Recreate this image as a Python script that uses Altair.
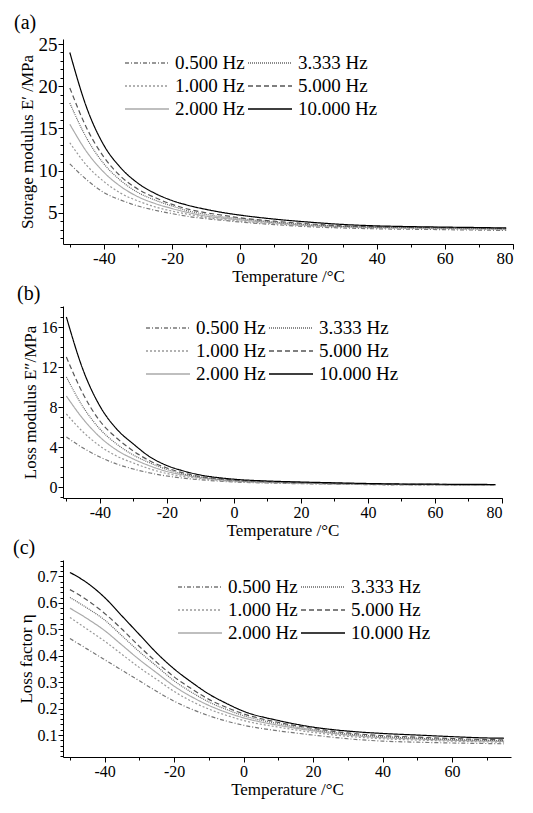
import altair as alt
import pandas as pd

FONT = "Liberation Serif"

freqs = ["0.500 Hz", "1.000 Hz", "2.000 Hz", "3.333 Hz", "5.000 Hz", "10.000 Hz"]
colors = ["#777777", "#999999", "#aaaaaa", "#666666", "#555555", "#000000"]
dashes = [[4, 2, 1, 2], [2, 2], [1, 0], [1, 1], [5, 3], [1, 0]]

temp_ab = [-50, -45, -40, -35, -30, -25, -20, -15, -10, -5, 0, 10, 20, 30, 40, 50, 60, 70, 78]
temp_c = [-50, -45, -40, -35, -30, -25, -20, -15, -10, -5, 0, 10, 20, 30, 40, 50, 60, 70, 75]

# (a) storage modulus E' / MPa
a_0500 = [10.8, 8.9, 7.4, 6.5, 5.8, 5.3, 4.9, 4.55, 4.3, 4.1, 3.9, 3.6, 3.35, 3.2, 3.1, 3.05, 3.0, 2.95, 2.9]
a_1000 = [13.3, 10.6, 8.7, 7.3, 6.4, 5.7, 5.2, 4.8, 4.45, 4.2, 4.0, 3.7, 3.45, 3.3, 3.2, 3.15, 3.1, 3.05, 3.0]
a_2000 = [15.5, 12.2, 9.8, 8.1, 6.9, 6.1, 5.5, 5.0, 4.6, 4.35, 4.15, 3.8, 3.5, 3.35, 3.25, 3.2, 3.15, 3.1, 3.05]
a_3333 = [18.0, 13.8, 10.8, 8.8, 7.4, 6.5, 5.8, 5.2, 4.8, 4.5, 4.3, 3.9, 3.6, 3.4, 3.3, 3.25, 3.2, 3.15, 3.1]
a_5000 = [19.8, 15.0, 11.6, 9.3, 7.8, 6.8, 6.0, 5.4, 5.0, 4.7, 4.4, 4.0, 3.7, 3.45, 3.35, 3.3, 3.25, 3.2, 3.15]
a_10000 = [24.0, 17.4, 13.0, 10.3, 8.5, 7.3, 6.45, 5.85, 5.4, 5.02, 4.72, 4.25, 3.9, 3.62, 3.45, 3.36, 3.3, 3.25, 3.2]

# (b) loss modulus E'' / MPa
b_0500 = [5.0, 3.9, 3.0, 2.3, 1.8, 1.4, 1.1, 0.88, 0.72, 0.6, 0.5, 0.4, 0.33, 0.28, 0.24, 0.21, 0.2, 0.18, 0.17]
b_1000 = [7.3, 5.5, 4.1, 3.1, 2.4, 1.8, 1.35, 1.05, 0.85, 0.68, 0.56, 0.44, 0.37, 0.3, 0.26, 0.23, 0.21, 0.2, 0.19]
b_2000 = [9.1, 6.8, 5.0, 3.7, 2.8, 2.1, 1.55, 1.2, 0.92, 0.75, 0.6, 0.47, 0.4, 0.33, 0.28, 0.25, 0.23, 0.21, 0.2]
b_3333 = [11.0, 8.0, 5.8, 4.3, 3.2, 2.4, 1.75, 1.3, 1.0, 0.8, 0.65, 0.5, 0.42, 0.35, 0.3, 0.27, 0.25, 0.23, 0.22]
b_5000 = [13.0, 9.3, 6.6, 4.9, 3.6, 2.6, 1.9, 1.4, 1.05, 0.85, 0.7, 0.55, 0.45, 0.38, 0.32, 0.28, 0.26, 0.24, 0.23]
b_10000 = [17.0, 11.7, 8.1, 5.8, 4.3, 3.0, 2.15, 1.6, 1.2, 0.95, 0.78, 0.6, 0.5, 0.42, 0.35, 0.3, 0.28, 0.26, 0.25]

# (c) loss factor eta
c_0500 = [0.465, 0.425, 0.385, 0.345, 0.305, 0.265, 0.228, 0.198, 0.173, 0.153, 0.137, 0.116, 0.1, 0.086, 0.077, 0.073, 0.07, 0.068, 0.067]
c_1000 = [0.545, 0.5, 0.455, 0.405, 0.355, 0.31, 0.265, 0.228, 0.198, 0.175, 0.155, 0.13, 0.11, 0.095, 0.086, 0.081, 0.077, 0.074, 0.073]
c_2000 = [0.58, 0.54, 0.495, 0.44, 0.385, 0.335, 0.285, 0.245, 0.212, 0.186, 0.165, 0.137, 0.116, 0.1, 0.09, 0.085, 0.08, 0.077, 0.076]
c_3333 = [0.62, 0.58, 0.535, 0.475, 0.415, 0.36, 0.305, 0.262, 0.225, 0.197, 0.173, 0.143, 0.12, 0.104, 0.094, 0.088, 0.083, 0.08, 0.079]
c_5000 = [0.65, 0.61, 0.56, 0.50, 0.435, 0.375, 0.32, 0.275, 0.235, 0.205, 0.18, 0.148, 0.125, 0.108, 0.098, 0.092, 0.087, 0.083, 0.082]
c_10000 = [0.715, 0.675, 0.62, 0.55, 0.48, 0.41, 0.35, 0.30, 0.255, 0.22, 0.19, 0.155, 0.13, 0.115, 0.106, 0.1, 0.094, 0.089, 0.088]


def make_df(temps, series):
    rows = []
    for f, vals in zip(freqs, series):
        for t, v in zip(temps, vals):
            rows.append({"T": t, "v": v, "f": f})
    return pd.DataFrame(rows)


XLAB = "datum.value < 0 ? '-' + abs(datum.value) : '' + datum.value"


def panel(df, label, ytitle, xdom, ydom, xmajor, xminor, ymajor, yminor,
          w, h, lx, ly, ylabsize, xlabsize, yformat):
    xs = alt.Scale(domain=xdom, nice=False, zero=False)
    ys = alt.Scale(domain=ydom, nice=False, zero=False)
    lines = alt.Chart(df).mark_line(strokeWidth=1.2, interpolate="monotone").encode(
        x=alt.X("T:Q", scale=xs, axis=alt.Axis(
            values=xmajor, title="Temperature /°C", orient="bottom",
            labelFont=FONT, titleFont=FONT, labelExpr=XLAB,
            labelFontSize=xlabsize, titleFontSize=17, titlePadding=2,
            labelPadding=1, tickSize=5)),
        y=alt.Y("v:Q", scale=ys, axis=alt.Axis(
            values=ymajor, title=ytitle, orient="left",
            labelFont=FONT, titleFont=FONT,
            labelFontSize=ylabsize, titleFontSize=17, titlePadding=2,
            labelPadding=1, tickSize=5, format=yformat)),
        color=alt.Color("f:N", scale=alt.Scale(domain=freqs, range=colors),
                        legend=alt.Legend(title=None, orient="none",
                                          legendX=lx, legendY=ly, columns=2,
                                          symbolType="M-3,0H1", symbolSize=484,
                                          symbolStrokeWidth=1.3,
                                          labelFontSize=19, labelFont=FONT,
                                          labelColor="black",
                                          columnPadding=0, rowPadding=1,
                                          labelOffset=5)),
        strokeDash=alt.StrokeDash("f:N", scale=alt.Scale(domain=freqs, range=dashes),
                                  legend=None),
        detail="f:N",
    )
    minor = alt.Chart(df).mark_point(opacity=0).encode(
        x=alt.X("T:Q", scale=xs, axis=alt.Axis(
            values=xminor, labels=False, title=None, orient="bottom",
            domain=False, tickSize=3, grid=False)),
        y=alt.Y("v:Q", scale=ys, axis=alt.Axis(
            values=yminor, labels=False, title=None, orient="left",
            domain=False, tickSize=3, grid=False)),
    )
    return alt.layer(minor, lines).resolve_axis(x="independent", y="independent").properties(
        width=w, height=h,
        title=alt.TitleParams(label, anchor="start", frame="bounds", fontSize=20,
                              font=FONT, fontWeight="normal", offset=2, dx=-4,
                              color="black"),
    )


dfa = make_df(temp_ab, [a_0500, a_1000, a_2000, a_3333, a_5000, a_10000])
dfb = make_df(temp_ab, [b_0500, b_1000, b_2000, b_3333, b_5000, b_10000])
dfc = make_df(temp_c, [c_0500, c_1000, c_2000, c_3333, c_5000, c_10000])

pa = panel(dfa, "(a)", "Storage modulus E′ /MPa", [-52, 80], [1.3, 25.6],
           [-40, -20, 0, 20, 40, 60, 80], list(range(-50, 81, 10)),
           [5, 10, 15, 20, 25], [v for v in range(2, 26)],
           450, 205, 83, 12, 19, 17, "d")
pb = panel(dfb, "(b)", "Loss modulus E″/MPa", [-51, 80], [-1.1, 18.1],
           [-40, -20, 0, 20, 40, 60, 80], list(range(-50, 81, 10)),
           [0, 4, 8, 12, 16], list(range(-1, 19)),
           439, 192, 104, 10, 16, 16, "d")
pc = panel(dfc, "(c)", "Loss factor  η", [-52, 77], [0.017, 0.762],
           [-40, -20, 0, 20, 40, 60], list(range(-50, 77, 10)),
           [0.1, 0.2, 0.3, 0.4, 0.5, 0.6, 0.7], [round(0.02 + 0.02 * i, 2) for i in range(38)],
           448, 197, 136, 15, 16, 16, ".1f")

chart = alt.vconcat(pa, pb, pc, spacing=0, background="white").resolve_scale(
    color="independent", strokeDash="independent", x="independent", y="independent"
).resolve_legend(
    color="independent", strokeDash="independent"
).configure_view(
    stroke=None
).configure_axis(
    labelFont=FONT, titleFont=FONT, domainColor="black", tickColor="black",
    labelColor="black", titleColor="black", titleFontWeight="normal", grid=False,
).configure_legend(labelFont=FONT)

chart.save("out.html", embed_options={"renderer": "svg", "actions": False})
